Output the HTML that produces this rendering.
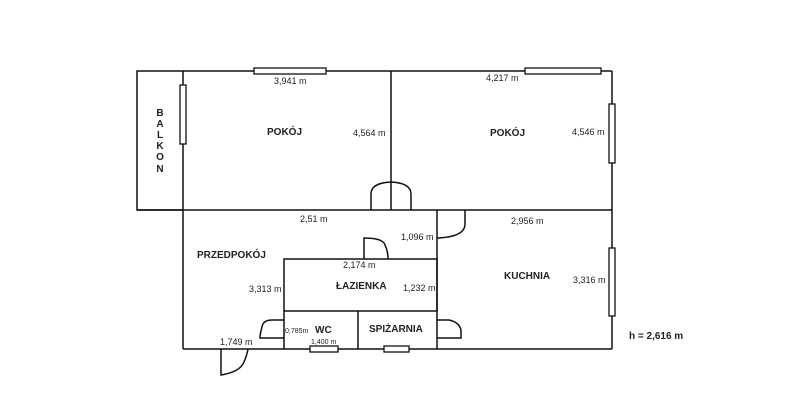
<!DOCTYPE html>
<html><head><meta charset="utf-8"><style>
html,body{margin:0;padding:0;background:#fff;width:800px;height:402px;overflow:hidden}
text{font-family:"Liberation Sans",sans-serif;fill:#222}
.d{font-size:9px}
.b{font-size:10px;font-weight:bold}
</style></head><body>
<svg width="800" height="402" viewBox="0 0 800 402" xmlns="http://www.w3.org/2000/svg">
<g stroke="#111" stroke-width="1.5" fill="none">
<rect x="137" y="71" width="46" height="139"/>
<line x1="183" y1="71" x2="612" y2="71"/>
<line x1="612" y1="71" x2="612" y2="349"/>
<line x1="391" y1="71" x2="391" y2="210"/>
<line x1="137" y1="210" x2="612" y2="210"/>
<line x1="183" y1="210" x2="183" y2="349"/>
<line x1="183" y1="349" x2="612" y2="349"/>
<line x1="437" y1="210" x2="437" y2="349"/>
<rect x="284" y="259" width="153" height="52"/>
<line x1="284" y1="311" x2="284" y2="349"/>
<line x1="358" y1="311" x2="358" y2="349"/>
<path d="M371 210 V194 Q371 183 391 182 Q411 183 411 194 V210"/>
<path d="M364 259 V238 Q380 238 384 243 Q388 250 388 259"/>
<path d="M465 210 V224 Q465 237 437 238"/>
<path d="M221 349 V375 Q240 372 244 362 Q247 355 248 349"/>
<path d="M284 320 H272 Q263 320 262 327 Q260 334 260 338 H284"/>
<path d="M437 320 H449 Q459 322 461 330 V338 H437"/>
</g>
<g stroke="#111" stroke-width="1.3" fill="#fff">
<rect x="254" y="68" width="72" height="6"/>
<rect x="525" y="68" width="76" height="6"/>
<rect x="180" y="85" width="6" height="59"/>
<rect x="609" y="104" width="6" height="59"/>
<rect x="609" y="248" width="6" height="68"/>
<rect x="310" y="346" width="28" height="6"/>
<rect x="384" y="346" width="25" height="6"/>
</g>
<text class="d" x="274" y="84">3,941 m</text>
<text class="d" x="486" y="81">4,217 m</text>
<text class="d" x="353" y="136">4,564 m</text>
<text class="d" x="572" y="135">4,546 m</text>
<text class="d" x="300" y="222">2,51 m</text>
<text class="d" x="511" y="224">2,956 m</text>
<text class="d" x="401" y="240">1,096 m</text>
<text class="d" x="343" y="268">2,174 m</text>
<text class="d" x="249" y="292">3,313 m</text>
<text class="d" x="403" y="291">1,232 m</text>
<text class="d" x="573" y="283">3,316 m</text>
<text class="d" x="220" y="345">1,749 m</text>
<text x="285" y="333" style="font-size:7px">0,785m</text>
<text x="311" y="344" style="font-size:7px">1,400 m</text>
<text class="b" x="267" y="135">POKÓJ</text>
<text class="b" x="490" y="136">POKÓJ</text>
<text class="b" x="197" y="258">PRZEDPOKÓJ</text>
<text class="b" x="336" y="289">ŁAZIENKA</text>
<text class="b" x="504" y="279">KUCHNIA</text>
<text class="b" x="315" y="333">WC</text>
<text class="b" x="369" y="332">SPIŻARNIA</text>
<text class="b" x="629" y="339">h = 2,616 m</text>
<g text-anchor="middle">
<text class="b" x="160" y="116">B</text>
<text class="b" x="160" y="127">A</text>
<text class="b" x="160" y="138">L</text>
<text class="b" x="160" y="149">K</text>
<text class="b" x="160" y="160">O</text>
<text class="b" x="160" y="172">N</text>
</g>
</svg>
</body></html>
